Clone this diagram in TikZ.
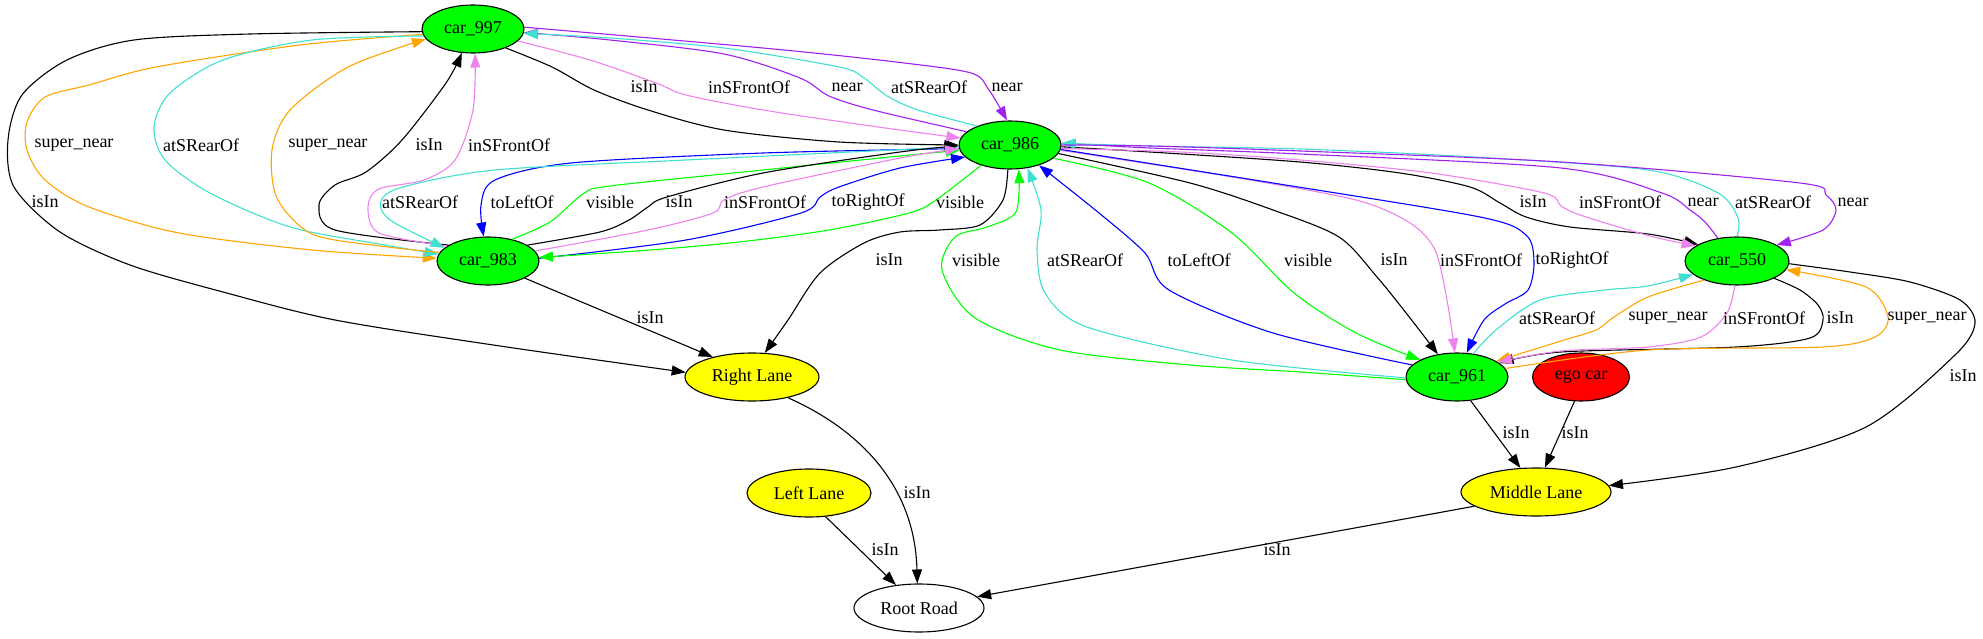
\documentclass[tikz,border=0pt]{standalone}
\usepackage{fontspec}
\setmainfont{Liberation Serif}
\usetikzlibrary{shapes.geometric,arrows.meta}
\definecolor{gvGreen}{RGB}{0,255,0}
\definecolor{gvYellow}{RGB}{255,255,0}
\definecolor{gvRed}{RGB}{255,0,0}
\definecolor{gvViolet}{RGB}{238,130,238}
\definecolor{gvTurq}{RGB}{64,224,208}
\definecolor{gvPurple}{RGB}{160,32,240}
\definecolor{gvOrange}{RGB}{255,165,0}
\definecolor{gvBlue}{RGB}{0,0,255}
\newcommand{\gvfont}{\fontsize{18pt}{20pt}\selectfont}
\tikzset{
  gnode/.style={ellipse, draw=black, line width=1.1pt, inner sep=0pt, minimum height=48pt, font=\gvfont},
  carnode/.style={gnode, fill=gvGreen, minimum width=102pt},
  lanenode/.style={gnode, fill=gvYellow},
  lbl/.style={inner sep=0pt, font=\gvfont},
  gedge/.style={line width=1.1pt, -{Triangle[length=14pt,width=10pt]}},
  eIsIn/.style={gedge, draw=black},
  eFront/.style={gedge, draw=gvViolet},
  eRear/.style={gedge, draw=gvTurq},
  eNear/.style={gedge, draw=gvPurple},
  eSuper/.style={gedge, draw=gvOrange},
  eSide/.style={gedge, draw=gvBlue},
  eVis/.style={gedge, draw=gvGreen},
}
\begin{document}
\begin{tikzpicture}[x=1pt,y=-1pt]
\useasboundingbox (0,0) rectangle (1983,639);
% nodes
\node[carnode] (c997) at (473,29) {car\_997};
\node[carnode] (c986) at (1010,145) {car\_986};
\node[carnode] (c983) at (488,261) {car\_983};
\node[carnode, minimum width=104pt] (c550) at (1737,261) {car\_550};
\node[carnode] (c961) at (1457,377) {car\_961};
\node[gnode, fill=gvRed, minimum width=97pt] (ego) at (1581,377) {ego car};
\node[lanenode, minimum width=134pt] (RL) at (752,377) {Right Lane};
\node[lanenode, minimum width=124pt] (LL) at (809,493) {Left Lane};
\node[lanenode, minimum width=150pt] (ML) at (1536,492) {Middle Lane};
\node[gnode, fill=white, minimum width=130pt] (RR) at (919,608) {Root Road};

% car_997 <-> car_983 and car_997 -> Right Lane
\draw[eIsIn] plot[smooth] coordinates {(c997.183) (250,34) (134,40) (67,60) (22,95) (8,140) (14,187) (60,232) (130,265) (223,292) (335,320) (500,346) (RL.176)};
\draw[eSuper] plot[smooth] coordinates {(c997.186) (300,45) (156,67) (89,85) (45,97) (27,122) (27,150) (45,180) (89,207) (179,233) (312,250) (c983.177)};
\draw[eRear] plot[smooth] coordinates {(c997.188) (312,40) (223,60) (170,93) (154,127) (165,160) (210,193) (290,227) (379,244) (c983.172)};
\draw[eSuper] plot[smooth] coordinates {(c983.170) (380,246) (312,234) (277,198) (272,150) (290,110) (348,67) (c997.192)};
\draw[eIsIn] plot[smooth] coordinates {(c983.158) (335,230) (319,205) (335,185) (366,172) (402,140) (446,83) (c997.245)};
\draw[eFront] plot[smooth] coordinates {(c983.160) (379,233) (368,207) (379,189) (424,180) (455,160) (473,110) (c997.275)};

% car_997 <-> car_986
\draw[eIsIn] plot[smooth] coordinates {(c997.330) (552,67) (594,90) (648,110) (724,130) (839,142) (c986.180)};
\draw[eFront] plot[smooth] coordinates {(c997.345) (590,60) (656,83) (686,95) (763,110) (878,127) (c986.172)};
\draw[eNear] plot[smooth] coordinates {(c986.163) (873,110) (829,96) (800,78) (724,54) (610,40) (c997.356)};
\draw[eRear] plot[smooth] coordinates {(c986.150) (918,110) (887,96) (864,78) (839,67) (724,48) (610,38) (c997.355)};
\draw[eNear] plot[smooth] coordinates {(c997.2) (650,38) (784,50) (896,62) (971,73) (989,90) (c986.97)};

% car_986 <-> car_983
\draw[eSide] plot[smooth] coordinates {(c986.184) (763,153) (571,163) (495,180) (481,205) (c983.100)};
\draw[eRear] plot[smooth] coordinates {(c986.182) (686,160) (495,170) (403,187) (381,201) (390,220) (c983.163)};
\draw[eVis] plot[smooth] coordinates {(c983.42) (550,222) (583,194) (610,186) (763,170) (900,156) (c986.186)};
\draw[eIsIn] plot[smooth] coordinates {(c983.22) (600,232) (629,220) (648,207) (667,197) (763,173) (900,152) (c986.181)};
\draw[eFront] plot[smooth] coordinates {(c983.12) (648,230) (713,213) (724,200) (763,187) (900,158) (c986.184)};
\draw[eSide] plot[smooth] coordinates {(c983.3) (686,240) (801,213) (820,197) (839,187) (900,168) (c986.195)};
\draw[eVis] plot[smooth] coordinates {(c986.215) (936,200) (909,213) (829,230) (739,242) (650,250) (c983.4)};

% car_986 -> Right Lane
\draw[eIsIn] plot[smooth] coordinates {(c986.265) (1003,200) (980,225) (940,230) (900,232) (864,243) (820,273) (788,320) (RL.62)};

% car_986 <-> car_961
\draw[eVis] plot[smooth] coordinates {(c961.183) (1300,372) (1190,365) (1060,350) (975,318) (942,270) (955,237) (987,227) (1016,212) (c986.290)};
\draw[eRear] plot[smooth] coordinates {(c961.181) (1232,360) (1087,327) (1045,293) (1037,250) (1041,210) (c986.307)};
\draw[eSide] plot[smooth] coordinates {(c961.165) (1273,333) (1169,290) (1145,253) (1099,213) (c986.325)};
\draw[eVis] plot[smooth] coordinates {(c986.343) (1149,183) (1232,233) (1294,293) (1356,333) (c961.155)};
\draw[eIsIn] plot[smooth] coordinates {(c986.350) (1190,183) (1273,210) (1339,237) (1377,277) (1410,318) (c961.130)};
\draw[eFront] plot[smooth] coordinates {(c986.354) (1232,177) (1356,200) (1410,223) (1435,250) (1447,300) (c961.95)};
\draw[eSide] plot[smooth] coordinates {(c986.355) (1273,183) (1480,217) (1526,235) (1534,262) (1528,290) (1505,304) (1484,320) (c961.68)};

% car_986 <-> car_550
\draw[eIsIn] plot[smooth] coordinates {(c986.358) (1150,152) (1300,162) (1400,173) (1470,187) (1500,203) (1526,217) (1570,227) (1648,234) (c550.157)};
\draw[eFront] plot[smooth] coordinates {(c986.356) (1180,152) (1300,160) (1431,173) (1544,193) (1561,206) (1583,216) (1650,236) (c550.160)};
\draw[eNear] plot[smooth] coordinates {(c550.130) (1705,222) (1690,210) (1662,193) (1561,168) (1300,154) (1150,148) (c986.2)};
\draw[eRear] plot[smooth] coordinates {(c550.90) (1738,218) (1718,193) (1648,170) (1474,157) (1300,149) (1150,146) (c986.2)};
\draw[eNear] plot[smooth] coordinates {(c986.0) (1150,146) (1300,151) (1561,162) (1800,183) (1826,195) (1836,210) (1823,230) (c550.22)};

% car_550 <-> car_961
\draw[eRear] plot[smooth] coordinates {(c961.55) (1496,330) (1540,300) (1605,290) (1648,286) (c550.197)};
\draw[eIsIn] plot[smooth] coordinates {(c550.335) (1800,290) (1818,305) (1823,320) (1810,338) (1736,347) (1561,352) (c961.18)};
\draw[eSuper] plot[smooth] coordinates {(c550.210) (1648,297) (1614,317) (1596,330) (1561,341) (c961.22)};
\draw[eFront] plot[smooth] coordinates {(c550.265) (1727,313) (1701,337) (1648,347) (1561,351) (c961.20)};
\draw[eSuper] plot[smooth] coordinates {(c961.10) (1648,350) (1823,347) (1875,337) (1888,317) (1866,287) (c550.350)};

% to Middle Lane
\draw[eIsIn] plot[smooth] coordinates {(c550.357) (1850,272) (1910,282) (1960,300) (1975,323) (1955,355) (1866,427) (1736,467) (ML.5)};
\draw[eIsIn] (c961.300) -- (ML.123);
\draw[eIsIn] (ego.255) -- (ML.70);

% lanes
\draw[eIsIn] (c983.335) -- (RL.153);
\draw[eIsIn] (RL.330) .. controls (865,432) and (915,490) .. (RR.94);
\draw[eIsIn] (LL.305) -- (RR.135);
\draw[eIsIn] (ML.193) -- (RR.11);

% labels
\node[lbl] (t01) at (45,202) {isIn};
\node[lbl] (t02) at (74,145) {super\_near};
\node[lbl] (t03) at (201,145) {atSRearOf};
\node[lbl] (t04) at (328,145) {super\_near};
\node[lbl] (t05) at (429,145) {isIn};
\node[lbl] (t06) at (509,145) {inSFrontOf};
\node[lbl] (t07) at (644,87) {isIn};
\node[lbl] (t08) at (749,87) {inSFrontOf};
\node[lbl] (t09) at (847,87) {near};
\node[lbl] (t10) at (929,87) {atSRearOf};
\node[lbl] (t11) at (1007,87) {near};
\node[lbl] (t12) at (420,202) {atSRearOf};
\node[lbl] (t13) at (522,202) {toLeftOf};
\node[lbl] (t14) at (610,202) {visible};
\node[lbl] (t15) at (679,202) {isIn};
\node[lbl] (t16) at (765,202) {inSFrontOf};
\node[lbl] (t17) at (868,202) {toRightOf};
\node[lbl] (t18) at (960,202) {visible};
\node[lbl] (t19) at (1533,202) {isIn};
\node[lbl] (t20) at (1620,202) {inSFrontOf};
\node[lbl] (t21) at (1703,202) {near};
\node[lbl] (t22) at (1773,202) {atSRearOf};
\node[lbl] (t23) at (1853,202) {near};
\node[lbl] (t24) at (889,260) {isIn};
\node[lbl] (t25) at (976,260) {visible};
\node[lbl] (t26) at (1085,260) {atSRearOf};
\node[lbl] (t27) at (1199,260) {toLeftOf};
\node[lbl] (t28) at (1308,260) {visible};
\node[lbl] (t29) at (1394,260) {isIn};
\node[lbl] (t30) at (1481,260) {inSFrontOf};
\node[lbl] (t31) at (1572,260) {toRightOf};
\node[lbl] (t32) at (650,318) {isIn};
\node[lbl] (t33) at (1557,318) {atSRearOf};
\node[lbl] (t34) at (1668,318) {super\_near};
\node[lbl] (t35) at (1764,318) {inSFrontOf};
\node[lbl] (t36) at (1840,318) {isIn};
\node[lbl] (t37) at (1927,318) {super\_near};
\node[lbl] (t38) at (1963,376) {isIn};
\node[lbl] (t39) at (1516,433) {isIn};
\node[lbl] (t40) at (1575,433) {isIn};
\node[lbl] (t41) at (917,493) {isIn};
\node[lbl] (t42) at (885,550) {isIn};
\node[lbl] (t43) at (1277,550) {isIn};
\end{tikzpicture}
\end{document}
